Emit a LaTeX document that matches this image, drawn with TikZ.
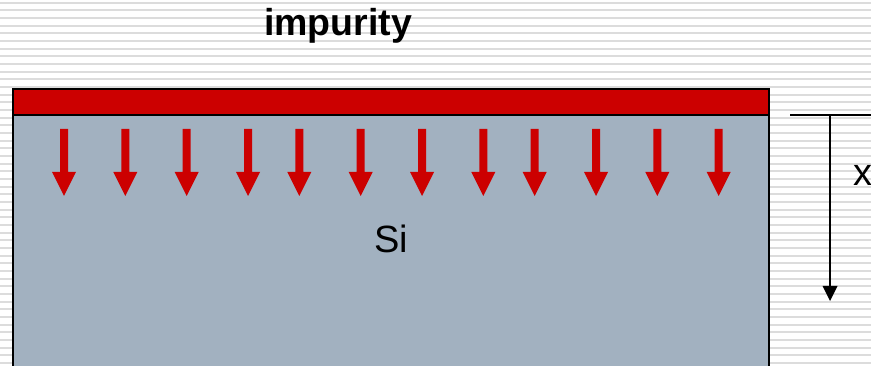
\documentclass[tikz,border=0pt]{standalone}
\usepackage{fontspec}
\setmainfont{Liberation Sans}
\definecolor{stripe}{HTML}{DCDCDC}
\definecolor{dopant}{HTML}{CC0000}
\definecolor{silicon}{HTML}{A2B1C0}
\tikzset{
  lbl/.style={inner sep=0pt, font=\fontsize{38}{44}\selectfont},
  edge/.style={draw=black, line width=2pt},
  flux/.style={fill=dopant},
}
\begin{document}
\begin{tikzpicture}[x=1pt, y=-1pt]
  \useasboundingbox (0,0) rectangle (871,366);
  % ruled background
  \fill[white] (0,0) rectangle (871,366);
  \foreach \k in {0,...,47}
    \fill[stripe] (0,{1.7+7.667*\k}) rectangle (871,{3.7+7.667*\k});
  % silicon wafer with surface impurity layer
  \fill[silicon] (13,115) rectangle (769,370);
  \fill[dopant] (13,89) rectangle (769,115);
  \draw[edge] (13,370) -- (13,89) -- (769,89) -- (769,370);
  \draw[edge] (13,115.5) -- (769,115.5);
  % diffusion arrows
  \foreach \cx in {64,125.3,186.7,248,299.3,360.7,422,483.3,534.7,596,657.3,718.7}
    \fill[flux] (\cx-4,129) -- (\cx+4,129) -- (\cx+4,172) -- (\cx+12,172)
      -- (\cx,196) -- (\cx-12,172) -- (\cx-4,172) -- cycle;
  % labels
  \node[lbl, font=\fontsize{37.5}{44}\selectfont\bfseries, anchor=base] (imp) at (338,36) {impurity};
  \node[lbl, anchor=base] (si) at (391,253) {Si};
  % depth axis
  \coordinate (ax0) at (790,115);
  \coordinate (ax1) at (871,115);
  \coordinate (top) at (830,115);
  \coordinate (bot) at (830,301);
  \draw[line width=1.8pt] (ax0) -- (ax1);
  \draw[line width=1.8pt] (top) -- (830,287);
  \fill (822.5,286) -- (837.5,286) -- (bot) -- cycle;
  \node[lbl, anchor=base west] (xl) at (853,186) {x};
\end{tikzpicture}
\end{document}
